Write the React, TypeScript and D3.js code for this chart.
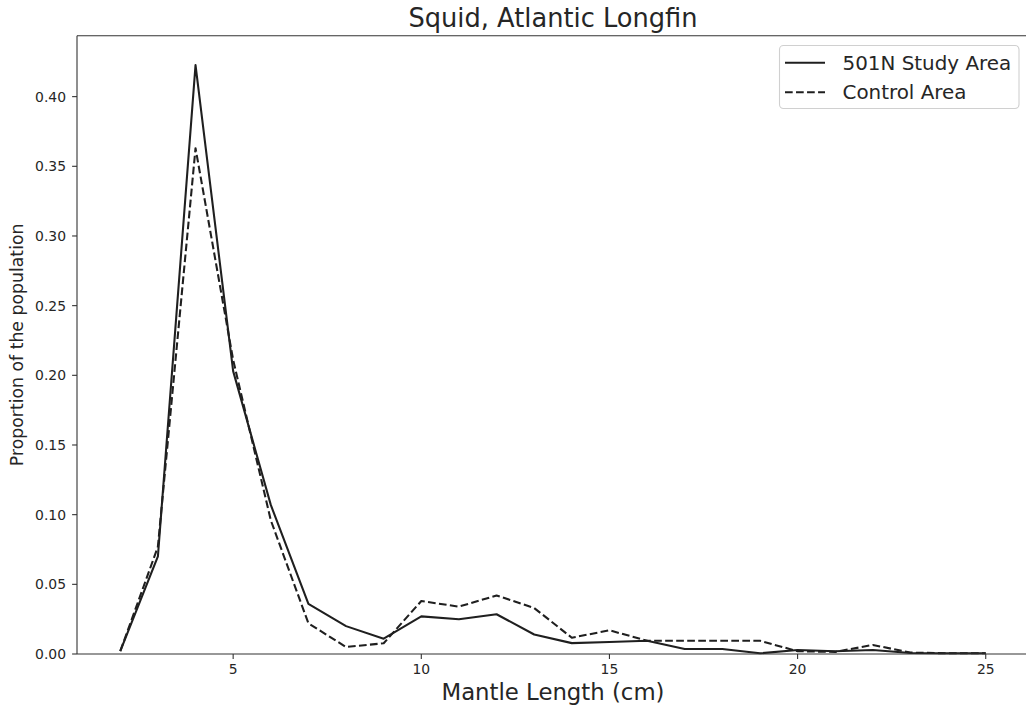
import React from "react";
import * as d3 from "d3";

const lengths = [2, 3, 4, 5, 6, 7, 8, 9, 10, 11, 12, 13, 14, 15, 16, 17, 18, 19, 20, 21, 22, 23, 24, 25];
const studyArea = [0.002, 0.07, 0.4226, 0.203, 0.107, 0.036, 0.02, 0.011, 0.027, 0.025, 0.0285, 0.014, 0.0078, 0.0086, 0.0095, 0.0036, 0.0036, 0.0005, 0.0029, 0.002, 0.0029, 0.0007, 0.0005, 0.0005];
const controlArea = [0.002, 0.077, 0.363, 0.211, 0.096, 0.022, 0.005, 0.0077, 0.038, 0.034, 0.042, 0.033, 0.0117, 0.017, 0.0095, 0.0095, 0.0095, 0.0095, 0.002, 0.0015, 0.0065, 0.001, 0.0005, 0.0005];
const xTicks = [5, 10, 15, 20, 25];
const yTicks = [0, 0.05, 0.1, 0.15, 0.2, 0.25, 0.3, 0.35, 0.4];
const seriesNames = ["501N Study Area", "Control Area"];
const title = "Squid, Atlantic Longfin";
const xLabel = "Mantle Length (cm)";
const yLabel = "Proportion of the population";

const W = 1026;
const H = 710;
const L = 77;
const R = 1029;
const T = 35.7;
const B = 654;
const FONT = "'DejaVu Sans', sans-serif";
const INK = "#262626";

export default function App() {
  const xMin = d3.min(lengths)!;
  const xMax = d3.max(lengths)!;
  const xPad = (xMax - xMin) * 0.05;
  const yMax = d3.max([...studyArea, ...controlArea])!;
  const x = d3.scaleLinear().domain([xMin - xPad, xMax + xPad]).range([L, R]);
  const y = d3.scaleLinear().domain([0, yMax * 1.05]).range([B, T]);

  const line = d3
    .line<number>()
    .x((_, i) => x(lengths[i]))
    .y((d) => y(d));

  const lw = 2.08;
  const dash = `${3.7 * lw},${1.6 * lw}`;

  return (
    <svg
      width={W}
      height={H}
      style={{ position: "absolute", left: 0, top: 0, background: "#fff", overflow: "hidden" }}
      fontFamily={FONT}
    >
      <rect x={0} y={0} width={W} height={H} fill="#fff" />
      <path d={line(studyArea) || ""} fill="none" stroke="#1f1f1f" strokeWidth={lw} strokeLinejoin="round" />
      <path d={line(controlArea) || ""} fill="none" stroke="#1f1f1f" strokeWidth={lw} strokeDasharray={dash} strokeLinejoin="round" />

      {/* spines */}
      <g stroke="#333" strokeWidth={1.1} fill="none">
        <line x1={L} y1={T} x2={L} y2={B} />
        <line x1={L} y1={B} x2={R} y2={B} />
        <line x1={L} y1={T} x2={R} y2={T} />
        <line x1={R} y1={T} x2={R} y2={B} />
      </g>

      {/* x ticks */}
      {xTicks.map((t) => (
        <g key={"x" + t}>
          <line x1={x(t)} x2={x(t)} y1={B} y2={B + 4.9} stroke="#333" strokeWidth={1.1} />
          <text x={x(t)} y={B + 19.5} textAnchor="middle" fontSize={13.9} fill={INK}>
            {t}
          </text>
        </g>
      ))}

      {/* y ticks */}
      {yTicks.map((t) => (
        <g key={"y" + t}>
          <line x1={L - 4.9} x2={L} y1={y(t)} y2={y(t)} stroke="#333" strokeWidth={1.1} />
          <text x={L - 11} y={y(t)} dy="0.36em" textAnchor="end" fontSize={13.9} fill={INK}>
            {t.toFixed(2)}
          </text>
        </g>
      ))}

      <text x={(L + R) / 2} y={27} textAnchor="middle" fontSize={25.7} fill={INK}>
        {title}
      </text>
      <text x={(L + R) / 2} y={699.5} textAnchor="middle" fontSize={22.8} fill={INK}>
        {xLabel}
      </text>
      <text
        transform={`translate(23, ${(T + B) / 2}) rotate(-90)`}
        textAnchor="middle"
        fontSize={17.3}
        fill={INK}
      >
        {yLabel}
      </text>

      {/* legend */}
      <g>
        <rect x={779.5} y={45.5} width={239.5} height={63} rx={4} ry={4} fill="#fff" fillOpacity={0.8} stroke="#d0d0d0" strokeWidth={1.1} />
        <line x1={785} x2={825} y1={62.7} y2={62.7} stroke="#1f1f1f" strokeWidth={lw} />
        <text x={842.5} y={69.5} fontSize={19.9} fill={INK}>
          {seriesNames[0]}
        </text>
        <line x1={785} x2={825} y1={92.3} y2={92.3} stroke="#1f1f1f" strokeWidth={lw} strokeDasharray={dash} />
        <text x={842.5} y={99} fontSize={19.9} fill={INK}>
          {seriesNames[1]}
        </text>
      </g>
    </svg>
  );
}
